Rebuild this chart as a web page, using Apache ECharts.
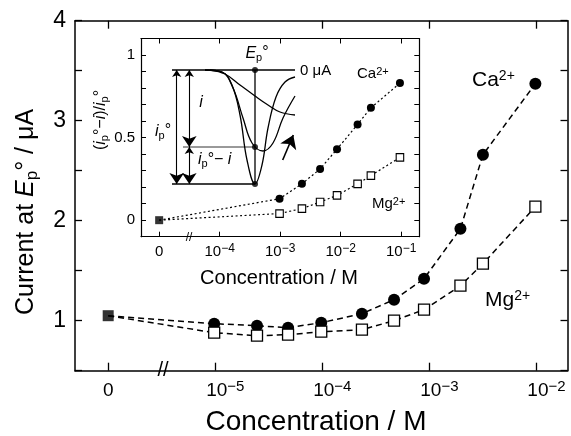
<!DOCTYPE html>
<html>
<head>
<meta charset="utf-8">
<script src="https://cdn.jsdelivr.net/npm/echarts@6/dist/echarts.min.js"></script>
<style>
html, body { margin: 0; padding: 0; background: #fff; }
#chart { width: 571px; height: 436px; }
</style>
</head>
<body>
<div id="chart"></div>
<script>
// main plot, x = log10(concentration / M); the "0" point is drawn at -6
const mainLogConc = [-5.01, -4.61, -4.32, -4.01, -3.63, -3.33, -3.05, -2.71, -2.50, -2.01];
const mainCa = [0.97, 0.95, 0.93, 0.98, 1.07, 1.21, 1.42, 1.92, 2.66, 3.37];
const mainMg = [0.88, 0.85, 0.86, 0.89, 0.91, 1.00, 1.11, 1.35, 1.57, 2.14];
const mainZero = [-6, 1.05];
const mainTicks = [-6, -5, -4, -3, -2];

// inset, (ip° - i)/ip° vs concentration; the "0" point is drawn at -5
const insetLogConc = [-3.01, -2.64, -2.34, -2.06, -1.72, -1.50, -1.02];
const insetCa = [0.13, 0.22, 0.31, 0.43, 0.58, 0.68, 0.83];
const insetMg = [0.04, 0.07, 0.11, 0.15, 0.22, 0.27, 0.38];
const insetZero = [-5, 0];
const insetTicks = [-5, -4, -3, -2, -1];

// voltammogram sketch inside the inset (arbitrary units: potential, current)
const sketchDeep = [[45, 120], [62, 118], [72, 105], [80, 75], [87, 30], [95, 6], [102, 25], [108, 62], [116, 93], [125, 108], [135, 113]];
const sketchMid = [[45, 120], [62, 118], [73, 102], [83, 72], [92, 47], [103, 39], [113, 47], [123, 72], [135, 94]];
const sketchFlat = [[50, 120], [65, 116], [80, 105], [95, 94], [108, 85], [120, 78], [135, 75]];
const sketchBase = [[12, 120], [135, 120]];
const sketchMidLine = [[23, 43], [95, 43]];
const sketchLow = [[12, 6], [95, 6]];
const sketchEp = [[95, 120], [95, 6]];
const sketchDots = [[95, 120], [95, 43], [95, 6]];
const sketchArrows = [
  { coords: [[16.7, 120], [16.7, 6]] },
  { coords: [[29.3, 120], [29.3, 43]] },
  { coords: [[29.3, 43], [29.3, 6]] }
];
const sketchShift = [{ coords: [[122.7, 30], [133.3, 55]] }];

const FONT = 'Liberation Sans';

// "0" at the break position, powers of ten elsewhere
function powLabel(zeroAt, pad) {
  return function (v) {
    if (Math.abs(v - zeroAt) < 1e-6) return '{b|0}';
    return (pad ? '{p| }' : '') + '{b|10}{s|\u2212' + Math.round(-v) + '}';
  };
}

function powRich(big, small, padW) {
  return {
    p: { fontFamily: FONT, fontSize: small, width: padW || 0, lineHeight: small },
    b: { fontFamily: FONT, fontSize: big, lineHeight: big + 4, color: '#000' },
    s: { fontFamily: FONT, fontSize: small, lineHeight: small, color: '#000', verticalAlign: 'top' }
  };
}

const black = { color: '#000' };

let chart = echarts.init(document.getElementById('chart'));

let option = {
  animation: false,
  backgroundColor: '#fff',
  grid: [
    { left: 75, top: 20.7, width: 492.5, height: 350 },
    { left: 141, top: 38.5, width: 278.3, height: 198.2 },
    { left: 160, top: 60, width: 140, height: 130 }
  ],
  xAxis: [
    {
      gridIndex: 0, type: 'value', min: -6.31, max: -1.71, position: 'bottom',
      axisLine: { onZero: false, lineStyle: { color: '#000', width: 1.5 } },
      axisTick: { inside: true, length: 8, customValues: mainTicks, lineStyle: { color: '#000', width: 1.3 } },
      axisLabel: { customValues: mainTicks, margin: 9, formatter: powLabel(-6, true), rich: powRich(19, 15, 20) },
      splitLine: { show: false }
    },
    {
      gridIndex: 0, type: 'value', min: -6.31, max: -1.71, position: 'top',
      axisLine: { onZero: false, lineStyle: { color: '#000', width: 1.5 } },
      axisTick: { inside: true, length: 8, customValues: mainTicks, lineStyle: { color: '#000', width: 1.3 } },
      axisLabel: { show: false },
      splitLine: { show: false }
    },
    {
      gridIndex: 1, type: 'value', min: -5.3, max: -0.7, position: 'bottom',
      axisLine: { onZero: false, lineStyle: { color: '#000', width: 1.2 } },
      axisTick: { inside: true, length: 5, customValues: insetTicks, lineStyle: { color: '#000', width: 1 } },
      axisLabel: { customValues: insetTicks, margin: 6, formatter: powLabel(-5, false), rich: powRich(15, 12) },
      splitLine: { show: false }
    },
    {
      gridIndex: 1, type: 'value', min: -5.3, max: -0.7, position: 'top',
      axisLine: { onZero: false, lineStyle: { color: '#000', width: 1.2 } },
      axisTick: { inside: true, length: 5, customValues: insetTicks, lineStyle: { color: '#000', width: 1 } },
      axisLabel: { show: false },
      splitLine: { show: false }
    },
    { gridIndex: 2, type: 'value', min: 0, max: 140, show: false }
  ],
  yAxis: [
    {
      gridIndex: 0, type: 'value', min: 0.5, max: 4, interval: 0.5, position: 'left',
      axisLine: { onZero: false, show: true, lineStyle: { color: '#000', width: 1.5 } },
      axisTick: { show: true, inside: true, length: 7, lineStyle: { color: '#000', width: 1.3 } },
      axisLabel: {
        margin: 9, fontFamily: FONT, fontSize: 23, color: '#000',
        formatter: v => (Math.abs(v - Math.round(v)) < 1e-6 ? String(Math.round(v)) : '')
      },
      splitLine: { show: false }
    },
    {
      gridIndex: 0, type: 'value', min: 0.5, max: 4, interval: 0.5, position: 'right',
      axisLine: { onZero: false, show: true, lineStyle: { color: '#000', width: 1.5 } },
      axisTick: { show: true, inside: true, length: 7, lineStyle: { color: '#000', width: 1.3 } },
      axisLabel: { show: false },
      splitLine: { show: false }
    },
    {
      gridIndex: 1, type: 'value', min: -0.1, max: 1.1, interval: 0.1, position: 'left',
      axisLine: { onZero: false, show: true, lineStyle: { color: '#000', width: 1.2 } },
      axisTick: { show: true, inside: true, length: 5, lineStyle: { color: '#000', width: 1 } },
      axisLabel: {
        margin: 6, fontFamily: FONT, fontSize: 15, color: '#000',
        formatter: v => {
          let r = Math.round(v * 10);
          return r === 0 ? '0' : r === 5 ? '0.5' : r === 10 ? '1' : '';
        }
      },
      splitLine: { show: false }
    },
    {
      gridIndex: 1, type: 'value', min: -0.1, max: 1.1, interval: 0.1, position: 'right',
      axisLine: { onZero: false, show: true, lineStyle: { color: '#000', width: 1.2 } },
      axisTick: { show: true, inside: true, length: 5, lineStyle: { color: '#000', width: 1 } },
      axisLabel: { show: false },
      splitLine: { show: false }
    },
    { gridIndex: 2, type: 'value', min: 0, max: 130, show: false }
  ],
  series: [
    // main plot
    {
      name: 'Ca', type: 'line', xAxisIndex: 0, yAxisIndex: 0,
      data: [{ value: mainZero, symbol: 'none' }].concat(mainLogConc.map((x, i) => [x, mainCa[i]])),
      symbol: 'circle', symbolSize: 12,
      itemStyle: black,
      lineStyle: { color: '#000', width: 1.5, type: [6, 4] },
      z: 3
    },
    {
      name: 'Mg', type: 'line', xAxisIndex: 0, yAxisIndex: 0,
      data: [{ value: mainZero, symbol: 'none' }].concat(mainLogConc.map((x, i) => [x, mainMg[i]])),
      symbol: 'rect', symbolSize: 11,
      itemStyle: { color: '#fff', borderColor: '#000', borderWidth: 1.3 },
      lineStyle: { color: '#000', width: 1.5, type: [6, 4] },
      z: 3
    },
    {
      type: 'scatter', xAxisIndex: 0, yAxisIndex: 0, data: [mainZero],
      symbol: 'rect', symbolSize: 11, itemStyle: black, z: 4
    },
    // inset
    {
      type: 'line', xAxisIndex: 2, yAxisIndex: 2,
      data: [{ value: insetZero, symbol: 'none' }].concat(insetLogConc.map((x, i) => [x, insetCa[i]])),
      symbol: 'circle', symbolSize: 8,
      itemStyle: black,
      lineStyle: { color: '#000', width: 1.2, type: [2, 2.5] },
      z: 3
    },
    {
      type: 'line', xAxisIndex: 2, yAxisIndex: 2,
      data: [{ value: insetZero, symbol: 'none' }].concat(insetLogConc.map((x, i) => [x, insetMg[i]])),
      symbol: 'rect', symbolSize: 7.5,
      itemStyle: { color: '#fff', borderColor: '#000', borderWidth: 1.1 },
      lineStyle: { color: '#000', width: 1.2, type: [2, 2.5] },
      z: 3
    },
    {
      type: 'scatter', xAxisIndex: 2, yAxisIndex: 2, data: [insetZero],
      symbol: 'rect', symbolSize: 8, itemStyle: black, z: 4
    },
    // sketch
    { type: 'line', xAxisIndex: 4, yAxisIndex: 4, data: sketchDeep, smooth: 0.4, symbol: 'none', lineStyle: { color: '#000', width: 1.3 } },
    { type: 'line', xAxisIndex: 4, yAxisIndex: 4, data: sketchMid, smooth: 0.4, symbol: 'none', lineStyle: { color: '#000', width: 1.3 } },
    { type: 'line', xAxisIndex: 4, yAxisIndex: 4, data: sketchFlat, smooth: 0.4, symbol: 'none', lineStyle: { color: '#000', width: 1.3 } },
    { type: 'line', xAxisIndex: 4, yAxisIndex: 4, data: sketchBase, symbol: 'none', lineStyle: { color: '#000', width: 1.3 } },
    { type: 'line', xAxisIndex: 4, yAxisIndex: 4, data: sketchMidLine, symbol: 'none', lineStyle: { color: '#000', width: 0.8 } },
    { type: 'line', xAxisIndex: 4, yAxisIndex: 4, data: sketchLow, symbol: 'none', lineStyle: { color: '#000', width: 1.3 } },
    { type: 'line', xAxisIndex: 4, yAxisIndex: 4, data: sketchEp, symbol: 'none', lineStyle: { color: '#000', width: 1.3 } },
    { type: 'scatter', xAxisIndex: 4, yAxisIndex: 4, data: sketchDots, symbol: 'circle', symbolSize: 6, itemStyle: black, z: 4 },
    {
      type: 'lines', coordinateSystem: 'cartesian2d', xAxisIndex: 4, yAxisIndex: 4,
      data: sketchArrows, symbol: ['arrow', 'arrow'], symbolSize: [7, 11],
      lineStyle: { color: '#000', width: 1.1, opacity: 1 }
    },
    {
      type: 'lines', coordinateSystem: 'cartesian2d', xAxisIndex: 4, yAxisIndex: 4,
      data: sketchShift, symbol: ['none', 'arrow'], symbolSize: [8, 13],
      lineStyle: { color: '#000', width: 1.6, opacity: 1 }
    }
  ],
  graphic: [
    // axis titles
    {
      type: 'text', x: 316, y: 422,
      style: { text: 'Concentration / M', font: '28px "Liberation Sans"', fill: '#000', align: 'center', verticalAlign: 'middle' }
    },
    {
      type: 'text', x: 26, y: 212, rotation: Math.PI / 2,
      style: {
        text: 'Current at {i|E}{sub|p}{n|\u00b0 / \u03bcA}', fill: '#000', align: 'center', verticalAlign: 'middle',
        font: '25px "Liberation Sans"',
        rich: {
          i: { fontFamily: FONT, fontSize: 25, fontStyle: 'italic', lineHeight: 30 },
          sub: { fontFamily: FONT, fontSize: 17, lineHeight: 30, verticalAlign: 'bottom' },
          n: { fontFamily: FONT, fontSize: 25, lineHeight: 30 }
        }
      }
    },
    {
      type: 'text', x: 279, y: 278,
      style: { text: 'Concentration / M', font: '20px "Liberation Sans"', fill: '#000', align: 'center', verticalAlign: 'middle' }
    },
    {
      type: 'text', x: 101, y: 120, rotation: Math.PI / 2,
      style: {
        text: '({i|i}{sub|p}\u00b0\u2212{i|i})/{i|i}{sub|p}\u00b0', fill: '#000', align: 'center', verticalAlign: 'middle',
        font: '16px "Liberation Sans"',
        rich: {
          i: { fontFamily: FONT, fontSize: 16, fontStyle: 'italic', lineHeight: 18 },
          sub: { fontFamily: FONT, fontSize: 11, lineHeight: 18, verticalAlign: 'bottom' }
        }
      }
    },
    // series labels
    {
      type: 'text', x: 472, y: 80,
      style: { text: 'Ca{s|2+}', font: '21px "Liberation Sans"', fill: '#000', verticalAlign: 'middle',
        rich: { s: { fontFamily: FONT, fontSize: 14, verticalAlign: 'top', lineHeight: 14 } } }
    },
    {
      type: 'text', x: 485, y: 300,
      style: { text: 'Mg{s|2+}', font: '21px "Liberation Sans"', fill: '#000', verticalAlign: 'middle',
        rich: { s: { fontFamily: FONT, fontSize: 14, verticalAlign: 'top', lineHeight: 14 } } }
    },
    {
      type: 'text', x: 357, y: 74,
      style: { text: 'Ca{s|2+}', font: '15px "Liberation Sans"', fill: '#000', verticalAlign: 'middle',
        rich: { s: { fontFamily: FONT, fontSize: 11, verticalAlign: 'top', lineHeight: 11 } } }
    },
    {
      type: 'text', x: 372, y: 204,
      style: { text: 'Mg{s|2+}', font: '15px "Liberation Sans"', fill: '#000', verticalAlign: 'middle',
        rich: { s: { fontFamily: FONT, fontSize: 11, verticalAlign: 'top', lineHeight: 11 } } }
    },
    // sketch labels
    {
      type: 'text', x: 300, y: 71,
      style: { text: '0 \u03bcA', font: '15px "Liberation Sans"', fill: '#000', verticalAlign: 'middle' }
    },
    {
      type: 'text', x: 257, y: 54,
      style: { text: '{i|E}{sub|p}{n|\u00b0}', fill: '#000', align: 'center', verticalAlign: 'middle',
        rich: {
          i: { fontFamily: FONT, fontSize: 16, fontStyle: 'italic', lineHeight: 18 },
          sub: { fontFamily: FONT, fontSize: 11, lineHeight: 18, verticalAlign: 'bottom' },
          n: { fontFamily: FONT, fontSize: 16, lineHeight: 18, verticalAlign: 'top' }
        } }
    },
    {
      type: 'text', x: 201, y: 103,
      style: { text: 'i', font: 'italic 16px "Liberation Sans"', fill: '#000', align: 'center', verticalAlign: 'middle' }
    },
    {
      type: 'text', x: 163, y: 132,
      style: { text: '{i|i}{sub|p}{n|\u00b0}', fill: '#000', align: 'center', verticalAlign: 'middle',
        rich: {
          i: { fontFamily: FONT, fontSize: 16, fontStyle: 'italic', lineHeight: 18 },
          sub: { fontFamily: FONT, fontSize: 11, lineHeight: 18, verticalAlign: 'bottom' },
          n: { fontFamily: FONT, fontSize: 16, lineHeight: 18, verticalAlign: 'top' }
        } }
    },
    {
      type: 'text', x: 198, y: 160,
      style: { text: '{i|i}{sub|p}{n|\u00b0\u2212 }{i|i}', fill: '#000', verticalAlign: 'middle',
        rich: {
          i: { fontFamily: FONT, fontSize: 16, fontStyle: 'italic', lineHeight: 18 },
          sub: { fontFamily: FONT, fontSize: 11, lineHeight: 18, verticalAlign: 'bottom' },
          n: { fontFamily: FONT, fontSize: 16, lineHeight: 18 }
        } }
    },
    // axis breaks
    {
      type: 'text', x: 163, y: 370,
      style: { text: '//', font: '20px "Liberation Sans"', fill: '#000', align: 'center', verticalAlign: 'middle' }
    },
    {
      type: 'text', x: 189, y: 238,
      style: { text: '//', font: '12px "Liberation Sans"', fill: '#000', align: 'center', verticalAlign: 'middle' }
    }
  ]
};

chart.setOption(option);
</script>
</body>
</html>
